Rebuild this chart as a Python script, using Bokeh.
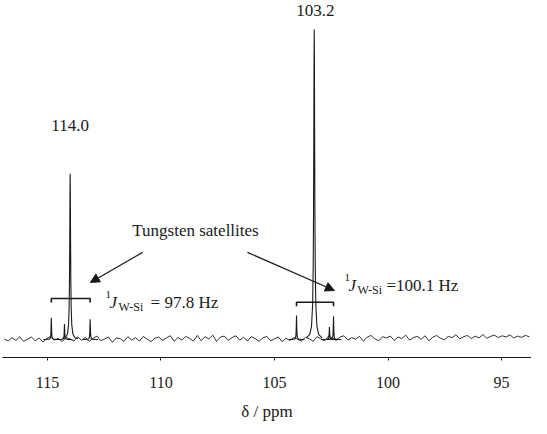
from bokeh.plotting import figure
from bokeh.models import Range1d, Label, Arrow, NormalHead, FixedTicker
from bokeh.embed import file_html
from bokeh.resources import INLINE
from bokeh.core.properties import value
import numpy as np

# ---- data ----
x_ticks = [115, 110, 105, 100, 95]
peak_ppm = [114.83, 114.25, 114.0, 113.12, 104.03, 103.25, 102.58, 102.40]
peak_height = [7.0, 5.0, 53.5, 6.5, 7.7, 100.0, 4.0, 7.5]
peak_width = [0.012, 0.012, 0.022, 0.012, 0.012, 0.025, 0.012, 0.012]
label_ppm = [114.0, 103.2]
label_text = ["114.0", "103.2"]
label_y = [69.0, 106.1]
sat_left = [114.83, 104.03]
sat_right = [113.12, 102.40]
bracket_y = [13.2, 12.0]
coupling_text = ["= 97.8 Hz", "=100.1 Hz"]
coupling_ppm = [112.44, 101.92]
coupling_y = [11.9, 17.4]
coupling_gap = [45, 42]
arrow_start = [(110.81, 28.1), (106.19, 28.1)]
arrow_end = [(113.11, 18.4), (102.36, 15.8)]
title_text = "Tungsten satellites"
title_pos = (108.48, 35.2)
noise_start, noise_step = 116.9, 0.17
noise = [
    0.2, -0.5, 0.6, -0.3, 0.9, -0.6, 0.1, 0.8, -0.4, 0.5,
    -0.8, 0.3, 1.0, -0.2, 0.4, -0.7, 0.6, 0.2, -0.5, 0.9,
    -0.3, 0.7, -0.6, 0.4, 1.1, -0.4, 0.2, 0.8, -0.9, 0.5,
    0.3, -0.6, 0.9, -0.2, 0.6, -0.5, 1.0, 0.1, -0.7, 0.4,
    0.8, -0.3, 0.5, 1.2, -0.6, 0.7, -0.2, 1.0, 0.3, -0.5,
    1.3, -0.4, 0.9, 0.2, 1.4, -0.6, 0.8, 1.1, -0.3, 0.6,
    1.2, -0.2, 0.7, -0.5, 0.9, 0.3, -0.6, 0.5, 1.0, -0.4,
    0.2, 0.8, -0.7, 0.4, -0.3, 0.6, 0.1, -0.5, 0.7, 0.3,
    -0.6, 0.9, 0.2, -0.4, 1.1, 0.5, -0.3, 0.8, 1.2, -0.2,
    0.6, 0.1, 1.0, -0.5, 0.7, 1.3, 0.2, -0.4, 0.9, 0.5,
    1.1, -0.3, 0.8, 0.3, 1.4, -0.2, 0.6, 1.0, 0.1, 1.2,
    -0.4, 0.7, 1.3, 0.4, -0.1, 1.0, 0.6, 1.5, 0.2, 0.9,
    1.3, 0.3, 1.1, 0.5, 1.6, 0.4, 1.0, 1.4, 0.6, 1.2,
    0.8, 1.5, 0.5, 1.1, 0.7, 1.3, 0.9,
]

# ---- styles ----
FONT = value("Liberation Serif")
INK = "#1a1a1a"
offsets = np.array([-0.35, -0.2, -0.12, -0.07, -0.045, -0.03, -0.018, -0.008, 0.0,
                    0.008, 0.018, 0.03, 0.045, 0.07, 0.12, 0.2, 0.35])

p = figure(width=531, height=426, output_backend="svg", toolbar_location=None,
           x_range=Range1d(116.98, 93.68), y_range=Range1d(-5.81, 109.35),
           min_border_left=2, min_border_right=0, min_border_top=0, min_border_bottom=69)
p.outline_line_color = None
p.grid.visible = False
p.yaxis.visible = False
p.background_fill_color = "white"

# baseline noise
noise_ppm = noise_start - noise_step * np.arange(len(noise))
p.line(noise_ppm, noise, line_color=INK, line_width=0.9)

# peaks (Lorentzian lines)
xs, ys = [], []
for c, h, w in zip(peak_ppm, peak_height, peak_width):
    xs.append(list(c + offsets))
    ys.append(list(h * w * w / (w * w + offsets ** 2)))
p.multi_line(xs, ys, line_color=INK, line_width=1.1)

# peak labels
p.text(x=label_ppm, y=label_y, text=label_text, text_font=FONT, text_font_size="17px",
       text_align="center", text_baseline="middle", text_color=INK)

# brackets over satellites
bx, by = [], []
for l, r, y in zip(sat_left, sat_right, bracket_y):
    bx.append([l, l, r, r])
    by.append([y - 1.3, y, y, y - 1.3])
p.multi_line(bx, by, line_color=INK, line_width=1.6)

# title + arrows
p.add_layout(Label(x=title_pos[0], y=title_pos[1], text=title_text, text_font="Liberation Serif",
                   text_font_size="17px", text_align="center", text_baseline="middle",
                   text_color=INK))
for (x0, y0), (x1, y1) in zip(arrow_start, arrow_end):
    p.add_layout(Arrow(end=NormalHead(size=9, fill_color=INK, line_color=INK),
                       x_start=x0, y_start=y0, x_end=x1, y_end=y1,
                       line_color=INK, line_width=1.2))

# coupling constant labels
for cx, cy, t, gap in zip(coupling_ppm, coupling_y, coupling_text, coupling_gap):
    common = dict(x=cx, y=cy, text_font="Liberation Serif", text_color=INK,
                  text_baseline="alphabetic", text_align="left")
    p.add_layout(Label(text="1", text_font_size="11px", x_offset=0, y_offset=8, **common))
    p.add_layout(Label(text="J", text_font_size="17px", text_font_style="italic",
                       x_offset=4, y_offset=0, **common))
    p.add_layout(Label(text="W-Si", text_font_size="12px", x_offset=13, y_offset=-4, **common))
    p.add_layout(Label(text=t, text_font_size="17px", x_offset=gap, y_offset=0, **common))

# axis
ax = p.xaxis[0]
ax.ticker = FixedTicker(ticks=x_ticks)
ax.axis_label = "δ / ppm"
ax.axis_label_text_font = "Liberation Serif"
ax.axis_label_text_font_size = "17px"
ax.axis_label_text_font_style = "normal"
ax.axis_label_text_color = INK
ax.axis_label_standoff = 11
ax.major_label_text_font = "Liberation Serif"
ax.major_label_text_font_size = "16px"
ax.major_label_text_color = INK
ax.major_label_standoff = 16
ax.major_tick_out = 3
ax.major_tick_in = 0
ax.minor_tick_out = 0
ax.minor_tick_in = 0
ax.axis_line_color = INK
ax.major_tick_line_color = INK

open("out.html", "w").write(file_html(p, INLINE))
